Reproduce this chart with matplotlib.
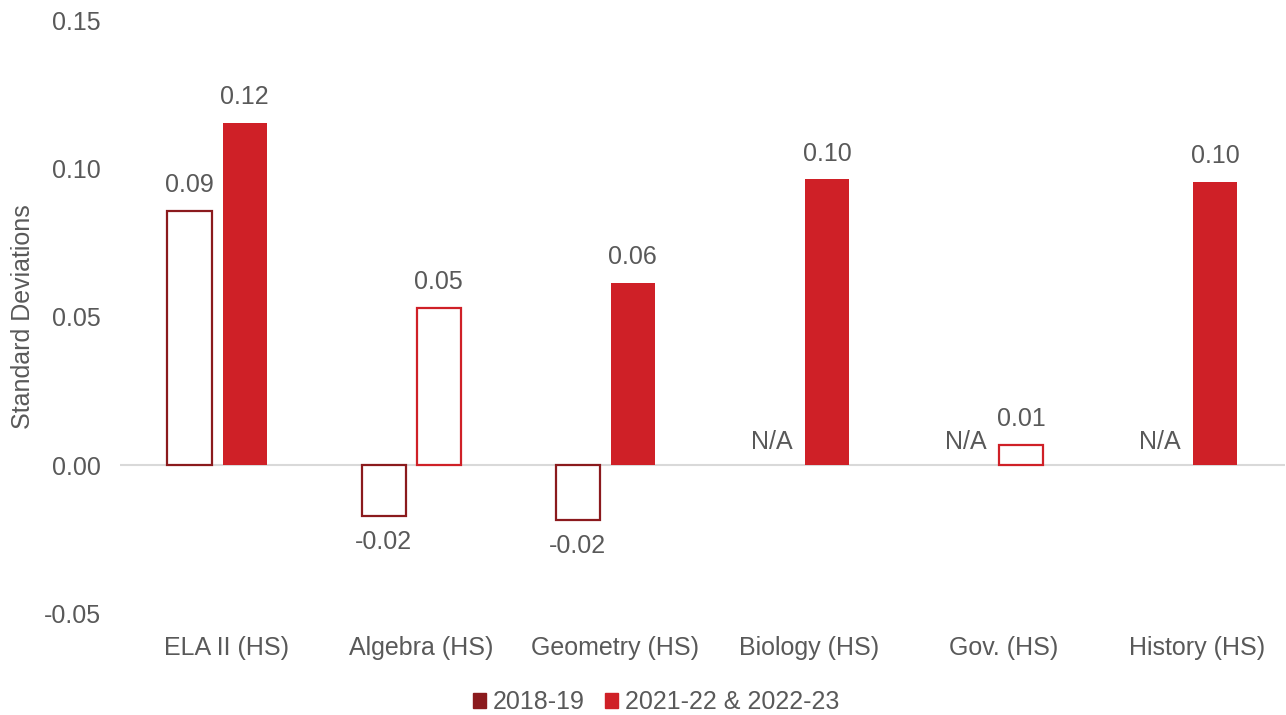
import matplotlib
matplotlib.use("Agg")
import matplotlib.pyplot as plt
import matplotlib.transforms as mtransforms
from matplotlib.patches import Patch
import numpy as np

categories = ["ELA II (HS)", "Algebra (HS)", "Geometry (HS)", "Biology (HS)", "Gov. (HS)", "History (HS)"]
series_names = ["2018-19", "2021-22 & 2022-23"]
# None marks subjects with no estimate for that period
values_2018 = [0.0856, -0.0171, -0.0185, None, None, None]
values_2022 = [0.1154, 0.0530, 0.0614, 0.0963, 0.0070, 0.0955]
# filled bars are statistically significant, outlined bars are not
significant_2018 = [False, False, False, False, False, False]
significant_2022 = [True, False, True, True, False, True]
y_ticks = [-0.05, 0.00, 0.05, 0.10, 0.15]

dark_red = "#8B1A1D"
red = "#CF2027"
text_gray = "#595959"
FS = 18

plt.rcParams["font.family"] = ["Liberation Sans", "DejaVu Sans"]

fig = plt.figure(figsize=(12.86, 7.15), dpi=100)
ax = fig.add_axes([0.0933, 0.1413, 0.9057, 0.8307])

x = np.arange(len(categories))
width = 0.227
offset = 0.142


def draw_series(vals, sig, pos, color):
    for xi, v, s in zip(pos, vals, sig):
        if v is None:
            ax.text(xi, 0.0, "N/A", ha="center", va="bottom", fontsize=FS,
                    color=text_gray,
                    transform=ax.transData + mtransforms.ScaledTranslation(0, 8 / 72, fig.dpi_scale_trans))
            continue
        if s:
            ax.bar(xi, v, width, color=color, edgecolor=color, linewidth=0, zorder=3)
        else:
            ax.bar(xi, v, width, facecolor="white", edgecolor=color, linewidth=1.6, zorder=3)
        dy = 10 if v >= 0 else -10
        ax.annotate(f"{v:.2f}", (xi, v), xytext=(0, dy), textcoords="offset points",
                    ha="center", va="bottom" if v >= 0 else "top",
                    fontsize=FS, color=text_gray)


draw_series(values_2018, significant_2018, x - offset, dark_red)
draw_series(values_2022, significant_2022, x + offset, red)

ax.axhline(0, color="#d9d9d9", linewidth=1.5, zorder=2)

ax.set_xlim(-0.5, len(categories) - 0.5)
ax.set_ylim(-0.05, 0.15)
ax.set_yticks(y_ticks)
ax.set_yticklabels([f"{t:.2f}" for t in y_ticks], fontsize=FS, color=text_gray)
# category labels sit slightly right of the bar pairs
ax.set_xticks(x + 0.05)
ax.set_xticklabels(categories, fontsize=FS, color=text_gray)
ax.tick_params(axis="both", length=0)
ax.tick_params(axis="y", pad=14)
ax.tick_params(axis="x", pad=16)
for sp in ax.spines.values():
    sp.set_visible(False)

ax.set_ylabel("Standard Deviations", fontsize=FS, color=text_gray, labelpad=6)

handles = [Patch(facecolor=dark_red, edgecolor=dark_red),
           Patch(facecolor=red, edgecolor=red)]
fig.legend(handles, series_names, loc="center", bbox_to_anchor=(0.51, 0.018), ncol=2,
           frameon=False, fontsize=FS, handlelength=0.55, handleheight=0.55,
           handletextpad=0.25, columnspacing=0.8, labelcolor=text_gray)

fig.savefig("out.png", dpi=100, facecolor="white")
